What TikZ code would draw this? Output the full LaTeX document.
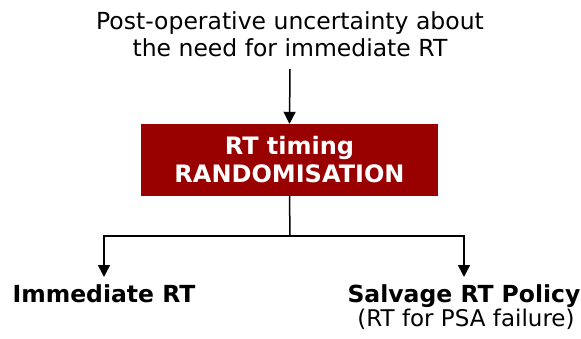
\documentclass[tikz,border=0pt]{standalone}
\usepackage{fontspec}
\setmainfont{DejaVu Sans}
\usetikzlibrary{arrows.meta}
\definecolor{boxred}{HTML}{990000}
\begin{document}
\begin{tikzpicture}[x=1pt,y=-1pt,
  conn/.style={line width=1.5pt},
  arr/.style={conn,-{Triangle[length=12pt,width=12pt]}},
  lbl/.style={inner sep=0pt,anchor=base},
  big/.style={font=\fontsize{23.5}{25}\selectfont},
]
\useasboundingbox (0,0) rectangle (581,339);
\node[lbl,big] (top1) at (290,30) {Post-operative uncertainty about};
\node[lbl,big] (top2) at (290,57) {the need for immediate RT};
\coordinate (topend) at (290,69);
\node[fill=boxred,minimum width=297pt,minimum height=72pt,inner sep=0pt] (rand) at (289.5,160) {};
\node[lbl,text=white,font=\bfseries\fontsize{24}{28}\selectfont] (rand1) at (289.5,155) {RT timing};
\node[lbl,text=white,font=\bfseries\fontsize{24}{28}\selectfont] (rand2) at (289.5,183) {RANDOMISATION};
\coordinate (split) at (290,236);
\coordinate (lc) at (104,236);
\coordinate (rc) at (464,236);
\node[lbl,font=\bfseries\fontsize{23.5}{25}\selectfont] (imm) at (104,302) {Immediate RT};
\node[lbl,font=\bfseries\fontsize{23.5}{25}\selectfont] (salv) at (464,302) {Salvage RT Policy};
\node[lbl,font=\fontsize{23}{25}\selectfont] (psa) at (466,326) {(RT for PSA failure)};
\draw[arr] (topend) -- (rand.north);
\draw[conn] (rand.south) -- (split);
\draw[arr] (split) -- (lc) -- (104,277);
\draw[arr] (split) -- (rc) -- (464,277);
\end{tikzpicture}
\end{document}
